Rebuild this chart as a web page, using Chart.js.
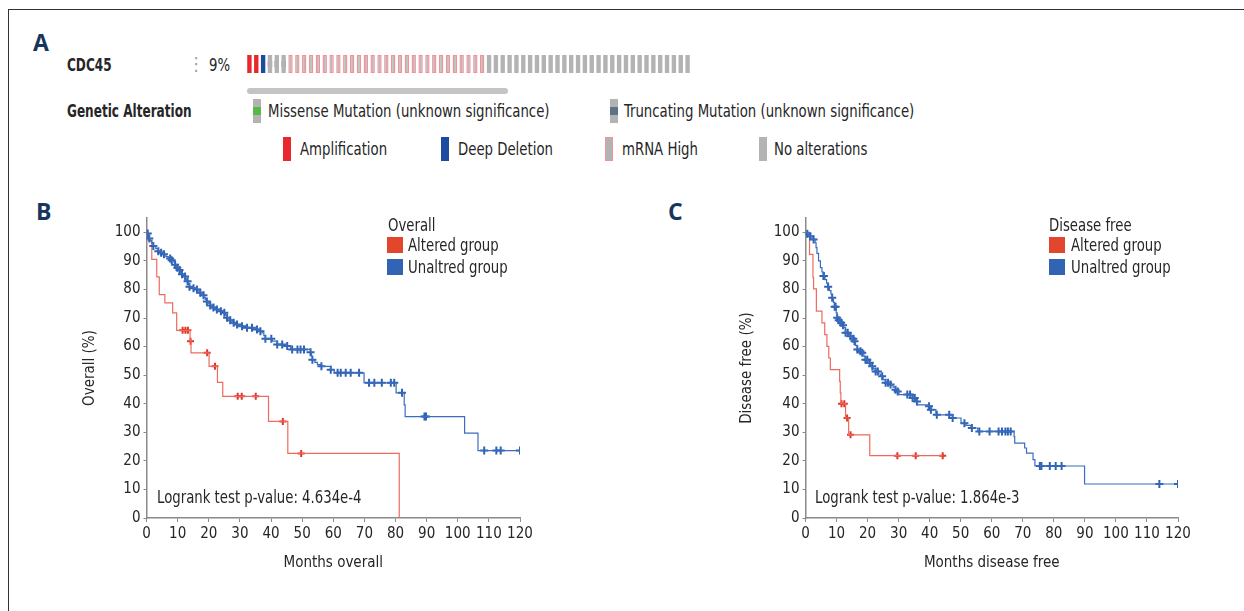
<!DOCTYPE html>
<html>
<head>
<meta charset="utf-8">
<script src="https://cdn.jsdelivr.net/npm/chart.js@4.4.1/dist/chart.umd.min.js"></script>
<style>
  body { margin: 0; width: 1244px; height: 611px; background: #fff; position: relative; overflow: hidden;
         font-family: 'DejaVu Sans Condensed', 'Liberation Sans', sans-serif; color: #262626; }
  .abs { position: absolute; white-space: nowrap; line-height: 22px; height: 22px; transform-origin: 0 50%; }
  .txt { font-size: 18px; transform: scaleX(0.82); }
  .bold { font-weight: bold; font-size: 17px; transform: scaleX(0.79); }
  .panel { font-family: 'Open Sans', 'DejaVu Sans', sans-serif; font-weight: bold; font-size: 23px; color: #17365d; line-height: 28px; height: 28px; }
  .icon { position: absolute; width: 8px; height: 24px; background: #b3b3b3; }
  .sq { position: absolute; width: 16px; height: 16px; }
  #frame { position: absolute; left: 8px; top: 9px; width: 1300px; height: 700px;
           border-top: 1.5px solid #333; border-left: 1.5px solid #333; }
</style>
</head>
<body>
<div id="frame"></div>

<div class="abs panel" style="left:33px;top:28px">A</div>
<div class="abs bold" style="left:67px;top:54px">CDC45</div>
<div class="abs" style="left:188px;top:53px;font-size:18px;color:#999">⋮</div>
<div class="abs txt" style="left:209px;top:54px">9%</div>
<div style="position:absolute;left:246px;top:55px"><canvas id="onco" width="445" height="18"></canvas></div>
<div style="position:absolute;left:247px;top:88px;width:261px;height:6px;border-radius:3px;background:#c4c4c4"></div>

<div class="abs bold" style="left:67px;top:100px">Genetic Alteration</div>
<div class="icon" style="left:253px;top:99px"><div style="position:absolute;left:0;top:8px;width:8px;height:8px;background:#56b847"></div></div>
<div class="abs txt" style="left:268px;top:100px">Missense Mutation (unknown significance)</div>
<div class="icon" style="left:610px;top:99px"><div style="position:absolute;left:0;top:8px;width:8px;height:8px;background:#5b7288"></div></div>
<div class="abs txt" style="left:624px;top:100px">Truncating Mutation (unknown significance)</div>

<div class="icon" style="left:283px;top:137px;background:#e8282c"></div>
<div class="abs txt" style="left:300px;top:138px">Amplification</div>
<div class="icon" style="left:441px;top:137px;background:#1c4ba0"></div>
<div class="abs txt" style="left:458px;top:138px">Deep Deletion</div>
<div class="icon" style="left:605px;top:137px;box-sizing:border-box;border:1.5px solid #f2939a"></div>
<div class="abs txt" style="left:622px;top:138px">mRNA High</div>
<div class="icon" style="left:759px;top:137px"></div>
<div class="abs txt" style="left:774px;top:138px">No alterations</div>

<div class="abs panel" style="left:36px;top:197px">B</div>
<div class="abs panel" style="left:668px;top:197px">C</div>

<div style="position:absolute;left:70px;top:200px"><canvas id="kmB" width="470" height="376"></canvas></div>
<div style="position:absolute;left:727px;top:200px"><canvas id="kmC" width="471" height="376"></canvas></div>

<div class="abs txt" style="left:388px;top:214px">Overall</div>
<div class="sq" style="left:387px;top:237px;background:#e2462c"></div>
<div class="abs txt" style="left:408px;top:234px">Altered group</div>
<div class="sq" style="left:387px;top:259px;background:#3264b4"></div>
<div class="abs txt" style="left:408px;top:256px">Unaltred group</div>
<div class="abs txt" style="left:157px;top:486px">Logrank test p-value: 4.634e-4</div>

<div class="abs txt" style="left:1049px;top:214px">Disease free</div>
<div class="sq" style="left:1049px;top:237px;background:#e2462c"></div>
<div class="abs txt" style="left:1071px;top:234px">Altered group</div>
<div class="sq" style="left:1049px;top:259px;background:#3264b4"></div>
<div class="abs txt" style="left:1071px;top:256px">Unaltred group</div>
<div class="abs txt" style="left:815px;top:486px">Logrank test p-value: 1.864e-3</div>

<script>
// oncoprint cases: A amplification, D deep deletion, T truncating, M missense, R mRNA high, N no alteration
const oncoCases = 'AADTTM' + 'RRRRRRRRRRRRRRRRRRRRRRRRRRRRR' + 'NNNNNNNNNNNNNNNNNNNNNNNNNNNNNN';

// KM curves: [months, survival %]
const overallAltered = [[0, 100], [0.5, 97.2], [1.7, 90.5], [3.3, 84.4], [4.1, 78.2], [5.9, 75.3], [8.4, 71.8],
  [9.7, 65.7], [14.0, 61.9], [14.3, 57.8], [20.1, 53.1], [22.8, 47.5], [24.5, 42.6], [39.2, 33.8], [45.4, 22.6], [81.2, 0]];
const overallAlteredCensor = [[11.6, 65.7], [12.5, 65.7], [13.3, 65.7], [14.15, 61.9], [19.5, 57.8], [22.0, 53.1],
  [29.3, 42.6], [30.6, 42.6], [35.1, 42.6], [43.8, 33.8], [49.7, 22.6]];

const overallUnaltered = [[0, 100], [0.3, 99.6], [0.6, 98.7], [0.9, 97.8], [1.2, 97], [1.7, 96.1], [2.2, 95.2], [3, 94.3],
  [3.8, 93.4], [4.6, 92.8], [5.4, 92.3], [6.2, 91.5], [7, 90.8], [7.8, 90.2], [8.5, 89.6], [9.1, 88.6], [9.7, 87.6],
  [10.3, 86.8], [10.9, 86], [11.4, 85.3], [11.9, 84.5], [12.5, 83.7], [13, 82.9], [13.4, 81.9], [13.8, 80.9], [15, 80.4],
  [16.2, 80], [16.8, 79.4], [17.3, 78.8], [17.9, 78], [18.4, 77.2], [18.9, 76.5], [19.4, 75.8], [20, 75.1], [20.5, 74.4],
  [21.3, 73.7], [22.1, 73], [23.5, 72.4], [24.8, 71.8], [25.3, 71], [25.9, 70.1], [26.7, 69.2], [27.5, 68.3], [28.5, 67.7],
  [29.6, 67.1], [32.3, 66.6], [35.5, 66], [36.4, 65.4], [37.2, 64.8], [37.7, 63.8], [38.2, 62.7], [40.4, 61.9], [42, 60.7],
  [44.5, 60.2], [46.3, 59], [52.7, 58], [53, 56.7], [53.3, 55.4], [54.1, 54.5], [54.9, 53.7], [56, 53.1], [59.2, 51.9],
  [60.3, 50.8], [69.9, 47.3], [80.2, 43.8], [82.8, 39.6], [83.1, 35.5], [102.2, 29.7], [106.5, 23.6], [120, 23.6]];
const overallUnalteredCensor = [[0.4, 99.6], [0.9, 97.8], [2.2, 95.2], [3.8, 93.4], [4.7, 92.8], [5.6, 92.3], [7.6, 90.8],
  [8.1, 90.2], [9.2, 88.6], [9.9, 87.6], [10.6, 86.8], [11.4, 85.3], [12.4, 84.5], [13.2, 82.9], [13.8, 80.9], [15.1, 80.4],
  [16.2, 80], [17.3, 78.8], [18.3, 78], [19.4, 75.8], [20.5, 74.4], [21.5, 73.7], [22.6, 73], [23.9, 72.4], [25, 71.8],
  [25.9, 70.1], [26.9, 69.2], [28, 68.3], [29.1, 67.7], [30.7, 67.1], [32.3, 66.6], [33.9, 66.6], [35.5, 66], [36.6, 65.4],
  [38.2, 62.7], [40.1, 62.7], [42, 60.7], [43.6, 60.7], [45.2, 60.2], [46.8, 59], [48.5, 59], [49.5, 59], [50.6, 59],
  [52.7, 58], [53.3, 55.4], [56.2, 53.1], [59.2, 51.9], [61.4, 50.8], [62.4, 50.8], [64, 50.8], [65.6, 50.8], [68.3, 50.8],
  [71.5, 47.3], [73.2, 47.3], [75.6, 47.3], [78.5, 47.3], [79.6, 47.3], [82.1, 43.8], [89.3, 35.5], [89.8, 35.5],
  [108.5, 23.6], [112.4, 23.6], [113.8, 23.6], [120, 23.6]];

const dfsAltered = [[0, 100], [1.3, 92.3], [2.4, 84.1], [2.6, 80.2], [3.5, 72.4], [5.3, 68.3], [6.2, 64.2], [6.9, 60.1],
  [7.5, 56], [8, 51.9], [11, 47.8], [11.2, 43.8], [11.4, 40], [12.9, 35], [13.9, 29.1], [20.7, 21.8], [44.2, 21.8]];
const dfsAlteredCensor = [[11.6, 40], [12.5, 40], [13.4, 35], [14.5, 29.1], [29.6, 21.8], [35.5, 21.8], [44.2, 21.8]];

const dfsUnaltered = [[0, 100], [0.6, 99.5], [1.2, 98.6], [2.1, 97.5], [3.1, 96.4], [3.4, 94.6], [3.7, 92.6], [4.2, 90],
  [4.8, 87.6], [5.3, 86.1], [5.8, 84.7], [6.3, 83.4], [6.8, 82.2], [7.3, 80.9], [7.7, 79.6], [8.2, 78.4], [8.6, 77.1],
  [9, 75.5], [9.4, 73.9], [9.9, 71.8], [10.2, 70.1], [10.7, 69.2], [11.2, 68.3], [11.7, 67.5], [12.3, 66.6], [12.9, 64.8],
  [13.7, 64.2], [14.5, 63.6], [15, 62.7], [15.5, 61.9], [16.1, 60.4], [16.7, 59], [17.5, 58.4], [18.3, 57.8], [18.8, 56.6],
  [19.3, 55.4], [20.1, 54.3], [21, 53.1], [21.8, 52.2], [22.6, 51.3], [23.4, 50.4], [24.2, 49.6], [25, 48.4], [25.8, 47.3],
  [27.4, 46.7], [28.2, 45.8], [29, 44.9], [29.6, 44.3], [30.1, 43.2], [33.9, 42], [35.5, 40.8], [36.1, 39.6], [39.8, 39.1],
  [40.4, 37.9], [42, 36.1], [47.4, 35], [50.1, 33.2], [51.7, 32.4], [53.3, 31.5], [55.5, 30.3], [67.2, 28.5], [67.4, 26.2],
  [70.6, 24.5], [71.2, 22.7], [73.3, 20.4], [73.9, 18.2], [89.9, 11.9], [120, 11.9]];
const dfsUnalteredCensor = [[0.6, 99.5], [1.5, 98.6], [2.6, 97.5], [5.8, 84.7], [5.9, 84.7], [7.3, 80.9], [8.6, 77.1],
  [9.4, 73.9], [9.7, 73.9], [10.2, 70.1], [10.7, 69.2], [11.5, 68.3], [12.1, 67.5], [12.9, 64.8], [13.6, 64.8], [14.5, 63.6],
  [15.4, 62.7], [15.8, 61.9], [16.7, 59], [17.7, 58.4], [18.3, 57.8], [19.3, 55.4], [19.9, 55.4], [20.7, 54.3], [21.5, 53.1],
  [22.6, 51.3], [23.3, 51.3], [24.7, 49.6], [25.8, 47.3], [26.6, 47.3], [27.4, 46.7], [29, 44.9], [29.7, 44.3], [32.8, 43.2],
  [33.7, 43.2], [34.5, 42], [35.2, 42], [35.9, 40.8], [39.8, 39.1], [40.4, 37.9], [42.3, 36.1], [46.3, 36.1], [47.4, 35],
  [51.2, 33.2], [53.6, 31.5], [56, 30.3], [59.3, 30.3], [62.2, 30.3], [63.3, 30.3], [64.4, 30.3], [65.2, 30.3], [66.1, 30.3],
  [75.5, 18.2], [76, 18.2], [78.7, 18.2], [80.6, 18.2], [82.5, 18.2], [114, 11.9], [120, 11.9]];

const monthTicks = [0, 10, 20, 30, 40, 50, 60, 70, 80, 90, 100, 110, 120];
const percentTicks = [0, 10, 20, 30, 40, 50, 60, 70, 80, 90, 100];

const FONT = "'DejaVu Sans Condensed', 'Liberation Sans', sans-serif";
const TEXT = '#262626';
const AXIS = '#8a8a8a';

// oncoprint
const baseColor = { A: '#e8282c', D: '#1c4ba0', T: '#b3b3b3', M: '#b3b3b3', R: '#b8b8b8', N: '#b3b3b3' };
const mutColor = { T: '#5b7288', M: '#56b847' };
const caseList = oncoCases.split('');

new Chart(document.getElementById('onco'), {
  type: 'bar',
  data: {
    labels: caseList.map((c, i) => 'case ' + (i + 1)),
    datasets: [{
      data: caseList.map(() => [0, 1]),
      backgroundColor: caseList.map(c => baseColor[c]),
      borderColor: caseList.map(c => c === 'R' ? '#f2939a' : 'rgba(0,0,0,0)'),
      borderWidth: caseList.map(c => c === 'R' ? 1.4 : 0),
      borderSkipped: false,
      grouped: false,
      barPercentage: 0.64,
      categoryPercentage: 1
    }, {
      data: caseList.map(c => mutColor[c] ? [0.33, 0.67] : null),
      backgroundColor: caseList.map(c => mutColor[c] || 'rgba(0,0,0,0)'),
      borderWidth: 0,
      grouped: false,
      barPercentage: 0.64,
      categoryPercentage: 1
    }]
  },
  options: {
    responsive: false,
    animation: false,
    layout: { padding: 0 },
    plugins: { legend: { display: false }, tooltip: { enabled: false } },
    scales: {
      x: { display: false },
      y: { display: false, min: 0, max: 1 }
    }
  }
});

function toPoints(arr) {
  return arr.map(p => ({ x: p[0], y: p[1] }));
}

function createKm(id, xTitle, yTitle, altered, alteredCensor, unaltered, unalteredCensor, yAxisWidth) {
  const lineSet = (data, color) => ({
    type: 'line', data: toPoints(data), stepped: 'before', borderColor: color, borderWidth: 1.2,
    pointRadius: 0, fill: false
  });
  const censorSet = (data, color, r) => ({
    type: 'scatter', data: toPoints(data), pointStyle: 'cross', pointRadius: r,
    borderColor: color, borderWidth: 2, backgroundColor: color
  });
  new Chart(document.getElementById(id), {
    type: 'line',
    data: {
      datasets: [
        lineSet(unaltered, '#3a6cc0'),
        censorSet(unalteredCensor, '#2f62b3', 4),
        lineSet(altered, '#ee6a5c'),
        censorSet(alteredCensor, '#e2352a', 3.5)
      ]
    },
    options: {
      responsive: false,
      animation: false,
      layout: { padding: { left: 7, right: 20, top: 18, bottom: 0 } },
      plugins: { legend: { display: false }, tooltip: { enabled: false } },
      scales: {
        x: {
          type: 'linear', min: 0, max: 120,
          afterBuildTicks: s => { s.ticks = monthTicks.map(v => ({ value: v })); },
          afterFit: s => { s.height = 58; },
          grid: { display: true, drawOnChartArea: false, drawTicks: true, tickLength: 4, color: AXIS },
          border: { display: true, color: AXIS, width: 1.5 },
          ticks: { color: TEXT, font: { family: FONT, size: 15 }, padding: 3, maxRotation: 0, autoSkip: false },
          title: { display: true, text: xTitle, color: TEXT, font: { family: FONT, size: 15 }, padding: { top: 4, bottom: 4 } }
        },
        y: {
          type: 'linear', min: 0, max: 105,
          afterBuildTicks: s => { s.ticks = percentTicks.map(v => ({ value: v })); },
          afterFit: s => { s.width = yAxisWidth; },
          grid: { display: true, drawOnChartArea: false, drawTicks: true, tickLength: 3, color: AXIS },
          border: { display: true, color: AXIS, width: 1.5 },
          ticks: { color: TEXT, font: { family: FONT, size: 15 }, padding: 3, autoSkip: false },
          title: { display: true, text: yTitle, color: TEXT, font: { family: FONT, size: 15 }, padding: { top: 4, bottom: 4 } }
        }
      }
    }
  });
}

createKm('kmB', 'Months overall', 'Overall (%)', overallAltered, overallAlteredCensor,
  overallUnaltered, overallUnalteredCensor, 69.5);
createKm('kmC', 'Months disease free', 'Disease free (%)', dfsAltered, dfsAlteredCensor,
  dfsUnaltered, dfsUnalteredCensor, 71.5);
</script>
</body>
</html>
